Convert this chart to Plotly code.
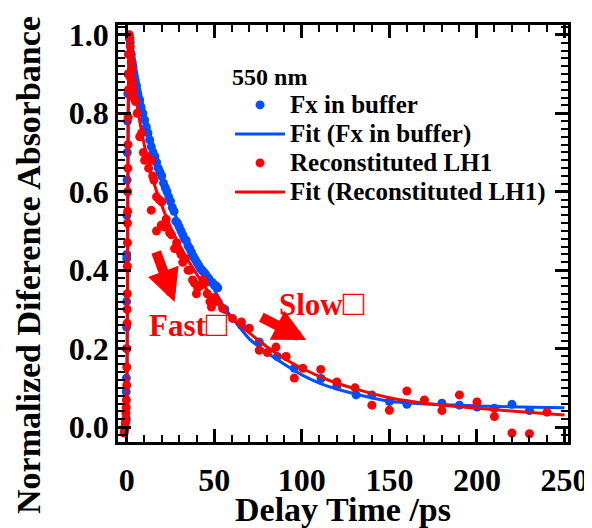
import plotly.graph_objects as go

# ---------------- data ----------------
# Fx in buffer (blue points)
fx_t = [-0.4, -0.3, -0.3, -0.2, -0.2, -0.1, -0.1, 0.0, 0.0, 0.1, 0.2, 0.3, 0.4, 0.6, 0.8, 1.0,
        1.5, 2.0, 2.5, 3.0, 3.5, 4.0, 4.6, 5.5, 6.3, 7.4, 8.2, 9.2, 10.2, 11.2, 12.1, 13.1,
        14.0, 15.0, 16.0, 17.0, 18.0, 19.0, 20.0, 21.0, 22.0, 23.0, 24.0, 25.0, 26.0, 27.0,
        28.0, 29.0, 30.0, 31.0, 32.0, 33.0, 34.0, 35.0, 36.0, 37.0, 38.0, 39.0, 40.0, 41.0,
        42.0, 43.0, 44.0, 45.0, 46.0, 47.0, 48.0, 49.0, 50.0, 51.0, 52.0,
        56.0, 65.5, 75.7, 86.0, 95.7, 111.0, 120.0, 131.0, 140.0, 150.0, 160.0, 180.0,
        190.0, 200.0, 210.0, 220.0, 230.0]
fx_v = [0.018, 0.023, 0.09, 0.125, 0.20, 0.255, 0.32, 0.43, 0.44, 0.54, 0.63, 0.70, 0.78, 0.85, 0.90, 0.95,
        0.99, 0.98, 0.95, 0.93, 0.92, 0.90, 0.885, 0.87, 0.85, 0.834, 0.815, 0.80, 0.783, 0.765, 0.75, 0.732,
        0.715, 0.70, 0.69, 0.675, 0.66, 0.65, 0.64, 0.622, 0.61, 0.60, 0.587, 0.575, 0.56, 0.55,
        0.525, 0.52, 0.51, 0.50, 0.49, 0.48, 0.475, 0.462, 0.455, 0.445, 0.435, 0.428, 0.42, 0.413,
        0.405, 0.40, 0.395, 0.39, 0.383, 0.378, 0.37, 0.368, 0.362, 0.36, 0.355,
        0.30, 0.26, 0.217, 0.18, 0.15, 0.124, 0.105, 0.082, 0.082, 0.065, 0.058, 0.061,
        0.056, 0.051, 0.048, 0.058, 0.042]

# Fit (Fx in buffer)
fx_fit_t = [-2.0, -0.5, 0.0, 0.4, 0.7, 1.0, 1.4, 2.0, 3.0, 5.0, 7.0, 10.0, 15.0, 20.0, 25.0, 30.0,
            35.0, 40.0, 45.0, 50.0, 55.0, 60.0, 70.0, 80.0, 90.0, 100.0, 110.0, 120.0, 130.0,
            150.0, 175.0, 200.0, 225.0, 250.0]
fx_fit_v = [-0.01, -0.01, 0.05, 0.35, 0.70, 0.88, 0.97, 1.0, 0.975, 0.92, 0.87, 0.805, 0.72, 0.643,
            0.575, 0.515, 0.465, 0.42, 0.383, 0.35, 0.31, 0.28, 0.225, 0.19, 0.16, 0.133, 0.112,
            0.097, 0.085, 0.066, 0.058, 0.054, 0.051, 0.049]

# Reconstituted LH1 (red points)
lh_t = [-1.5, -1.2, -1.0, -0.8, -0.6, -0.5, -0.3, -0.2, 0.0, 0.0, 0.1, 0.2, 0.2, 0.3, 0.3, 0.4,
        0.4, 0.5, 0.5, 0.6, 0.7, 0.8, 1.0, 1.2, 1.5, 1.8, 2.0, 2.3, 2.6, 3.0, 3.3, 3.6, 4.0, 1.0, 2.2,
        5.0, 6.0, 7.4, 8.5, 9.5, 10.2, 11.5, 12.5, 14.0, 14.8, 15.5, 14.0, 17.0, 17.0, 18.5,
        19.7, 20.0, 21.6, 22.5, 24.5, 25.5, 27.3, 28.5, 30.0, 31.0, 32.0, 33.5, 35.0, 36.0,
        37.6, 38.7, 39.8, 40.5, 42.0, 43.5, 44.4, 46.0, 47.5, 48.4, 49.0, 50.5, 52.0, 54.7,
        60.4, 65.5, 70.0, 75.7, 80.3, 85.2, 91.0, 95.7, 100.6, 110.8, 120.0, 130.4, 140.0,
        150.0, 160.0, 170.0, 180.0, 190.0, 200.0, 210.0, 220.0, 230.0, 240.0]
lh_v = [-0.015, -0.008, 0.0, 0.01, 0.018, 0.036, 0.05, 0.069, 0.107, 0.153, 0.20, 0.265, 0.30, 0.34,
        0.41, 0.47, 0.52, 0.55, 0.60, 0.66, 0.72, 0.79, 0.86, 0.95, 1.0, 0.99, 0.97, 0.95, 0.93, 0.91,
        0.88, 0.86, 0.84, 0.90, 0.89,
        0.83, 0.80, 0.74, 0.75, 0.70, 0.68, 0.69, 0.66, 0.68, 0.64, 0.63, 0.553, 0.587, 0.50, 0.58,
        0.515, 0.574, 0.51, 0.53, 0.495, 0.49, 0.455, 0.47, 0.45, 0.44, 0.42, 0.43, 0.40, 0.40,
        0.375, 0.367, 0.34, 0.355, 0.36, 0.375, 0.367, 0.34, 0.32, 0.306, 0.33, 0.33, 0.32, 0.303,
        0.277, 0.268, 0.252, 0.196, 0.19, 0.204, 0.18, 0.125, 0.15, 0.147, 0.115, 0.10, 0.056,
        0.043, 0.092, 0.069, 0.042, 0.082, 0.064, 0.027, -0.015, -0.017, 0.038]

# Fit (Reconstituted LH1)
lh_fit_t = [-2.0, -0.5, 0.0, 0.4, 0.7, 1.0, 1.4, 1.8, 2.5, 3.0, 4.0, 5.0, 7.0, 10.0, 13.0, 16.0,
            20.0, 25.0, 30.0, 35.0, 40.0, 45.0, 50.0, 55.0, 60.0, 70.0, 80.0, 90.0, 100.0,
            115.0, 130.0, 150.0, 175.0, 200.0, 225.0, 250.0]
lh_fit_v = [-0.01, -0.01, 0.05, 0.35, 0.70, 0.88, 0.96, 0.99, 0.96, 0.93, 0.89, 0.85, 0.79, 0.72,
            0.66, 0.615, 0.565, 0.51, 0.465, 0.425, 0.39, 0.355, 0.325, 0.30, 0.278, 0.24,
            0.205, 0.175, 0.15, 0.12, 0.098, 0.075, 0.058, 0.048, 0.039, 0.031]

x_ticks = [0, 50, 100, 150, 200, 250]
y_ticks = [0.0, 0.2, 0.4, 0.6, 0.8, 1.0]
y_tick_labels = ["0.0", "0.2", "0.4", "0.6", "0.8", "1.0"]

BLUE = "#0050FF"
RED = "#FF0000"
SERIF = "Liberation Serif"


def big(s):
    return "<span style='font-size:25px'>" + s + "</span>"


fig = go.Figure()
fig.add_trace(go.Scatter(x=fx_t, y=fx_v, mode="markers", name=big("Fx in buffer"),
                         marker=dict(color=BLUE, size=9)))
fig.add_trace(go.Scatter(x=fx_fit_t, y=fx_fit_v, mode="lines", name=big("Fit (Fx in buffer)"),
                         line=dict(color=BLUE, width=3, shape="spline", smoothing=0.6)))
fig.add_trace(go.Scatter(x=lh_t, y=lh_v, mode="markers", name=big("Reconstituted LH1"),
                         marker=dict(color=RED, size=9)))
fig.add_trace(go.Scatter(x=lh_fit_t, y=lh_fit_v, mode="lines", name=big("Fit (Reconstituted LH1)"),
                         line=dict(color=RED, width=3, shape="spline", smoothing=0.6)))

axis_common = dict(
    showline=True, linecolor="black", linewidth=2.5, mirror="allticks",
    ticks="inside", ticklen=13, tickwidth=2.5, tickcolor="black",
    showgrid=False, zeroline=False, automargin=False,
    tickfont=dict(family=SERIF, size=32, color="black", weight="bold"),
)

fig.update_xaxes(**axis_common, range=[-5, 252], tickvals=x_ticks, ticklabelstandoff=8,
                 minor=dict(dtick=10, tick0=0, ticks="inside", ticklen=7, tickwidth=2, tickcolor="black"),
                 title=dict(text="Delay Time /ps", standoff=6,
                            font=dict(family=SERIF, size=34, color="black", weight="bold")))
fig.update_yaxes(**axis_common, range=[-0.038, 1.025], tickvals=y_ticks, ticktext=y_tick_labels,
                 minor=dict(dtick=0.02, tick0=0, ticks="inside", ticklen=7, tickwidth=2, tickcolor="black"))

# y-axis title (placed lower than the plot centre, as in the reference)
fig.add_annotation(x=-0.1978, y=0.4245, xref="paper", yref="paper", xanchor="center", yanchor="middle",
                   textangle=-90, showarrow=False, text="Normalized Diference Absorbance",
                   font=dict(family=SERIF, size=34, color="black", weight="bold"))

ann_font = dict(family=SERIF, size=31, color=RED, weight="bold")
box = "<span style='font-size:36px'>□</span>"
fig.add_annotation(x=35.3, y=0.263, xref="x", yref="y", text="Fast" + box, showarrow=False, font=ann_font)
fig.add_annotation(x=111.6, y=0.316, xref="x", yref="y", text="Slow" + box, showarrow=False, font=ann_font)
fig.add_annotation(x=27.3, y=0.319, ax=16.5, ay=0.450, xref="x", yref="y", axref="x", ayref="y",
                   text="", showarrow=True, arrowhead=2, arrowsize=0.65, arrowwidth=10, arrowcolor=RED,
                   standoff=0)
fig.add_annotation(x=102.5, y=0.222, ax=76.0, ay=0.282, xref="x", yref="y", axref="x", ayref="y",
                   text="", showarrow=True, arrowhead=2, arrowsize=0.65, arrowwidth=10, arrowcolor=RED,
                   standoff=0)

fig.update_layout(
    width=584, height=520,
    margin=dict(l=110, r=24, t=17, b=86),
    paper_bgcolor="white", plot_bgcolor="white",
    showlegend=True,
    legend=dict(x=0.249, y=0.93, xanchor="left", yanchor="top", bgcolor="rgba(0,0,0,0)",
                font=dict(family=SERIF, size=20, color="black", weight="bold"),
                title=dict(text="550 nm", font=dict(family=SERIF, size=24, color="black", weight="bold")),
                tracegroupgap=0, itemwidth=50),
    font=dict(family=SERIF, color="black"),
)

fig.write_html("out.html")
